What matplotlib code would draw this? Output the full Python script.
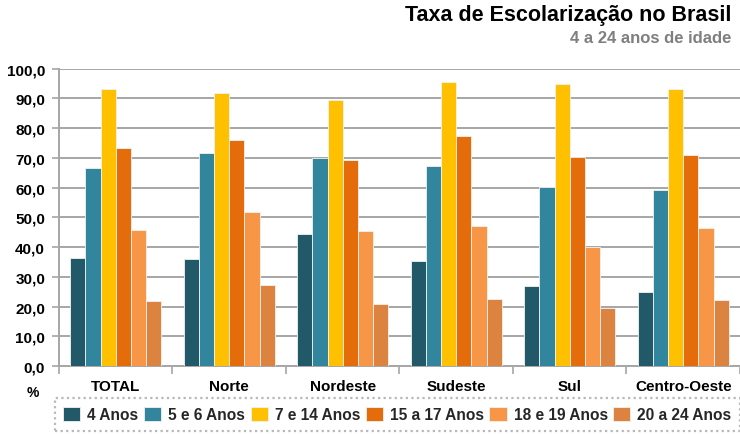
import matplotlib
matplotlib.use('Agg')
import matplotlib.pyplot as plt
import numpy as np

plt.rcParams['font.family'] = ['Liberation Sans', 'DejaVu Sans']
plt.rcParams['font.weight'] = 'bold'

regions = ['TOTAL', 'Norte', 'Nordeste', 'Sudeste', 'Sul', 'Centro-Oeste']
age_groups = ['4 Anos', '5 e 6 Anos', '7 e 14 Anos', '15 a 17 Anos', '18 e 19 Anos', '20 a 24 Anos']

anos_4 = [36.3, 36.0, 44.4, 35.3, 26.8, 25.0]
anos_5_6 = [66.6, 71.6, 69.8, 67.2, 60.2, 59.2]
anos_7_14 = [93.0, 91.9, 89.4, 95.5, 94.8, 93.1]
anos_15_17 = [73.2, 75.9, 69.2, 77.3, 70.4, 71.0]
anos_18_19 = [45.7, 51.8, 45.3, 47.1, 39.9, 46.3]
anos_20_24 = [21.8, 27.1, 20.9, 22.4, 19.6, 22.1]

series = [anos_4, anos_5_6, anos_7_14, anos_15_17, anos_18_19, anos_20_24]
colors = ['#215968', '#31859C', '#FFC000', '#E46C0A', '#F79646', '#DC843F']

fig = plt.figure(figsize=(7.4, 4.35), dpi=100)
ax = fig.add_axes([0.0797, 0.1563, 0.9203, 0.6839])

x = np.arange(len(regions))
w = 0.8 / len(series)
for i, (vals, col, lab) in enumerate(zip(series, colors, age_groups)):
    ax.bar(x - 0.4 + w * (i + 0.5), vals, width=w, color=col, label=lab,
           edgecolor='#F2F2F2', linewidth=0.6, zorder=3)

ax.set_xlim(-0.5, len(regions) - 0.5)
ax.set_ylim(0, 100)
ax.set_yticks(np.arange(0, 101, 10))
ax.set_yticklabels([f'{v:.1f}'.replace('.', ',') for v in range(0, 101, 10)],
                   fontsize=11, fontweight='bold')
ax.yaxis.grid(True, color='#A6A6A6', linewidth=1.4, zorder=0)
ax.tick_params(axis='y', length=5, color='#A6A6A6', width=1.2, pad=5)

ax.set_xticks(x)
ax.set_xticklabels(regions, fontsize=11, fontweight='bold')
ax.tick_params(axis='x', length=0, pad=9)
ax.set_xticks(np.arange(-0.5, len(regions), 1), minor=True)
ax.tick_params(axis='x', which='minor', length=6, color='#A6A6A6', width=1.2)

for side in ['top', 'right']:
    ax.spines[side].set_visible(False)
for side in ['left', 'bottom']:
    ax.spines[side].set_color('#A6A6A6')
    ax.spines[side].set_linewidth(1.4)

fig.text(0.9888, 0.9524, 'Taxa de Escolarização no Brasil', ha='right', va='baseline',
         fontsize=15.5, fontweight='bold', color='black')
fig.text(0.9888, 0.9019, '4 a 24 anos de idade', ha='right', va='baseline',
         fontsize=12, fontweight='bold', color='#7F7F7F')
fig.text(0.045, 0.097, '%', ha='center', va='center', fontsize=10, fontweight='bold')

leg = fig.legend(loc='lower left', bbox_to_anchor=(0.074, 0.007, 0.926, 0.07), mode='expand',
                 ncol=6, fontsize=11.2, frameon=True, fancybox=False,
                 handlelength=1.1, handleheight=1.05, handletextpad=0.45, columnspacing=0.5,
                 borderpad=0.55, borderaxespad=0)
leg.get_frame().set_linestyle((0, (1, 1.5)))
leg.get_frame().set_edgecolor('#A6A6A6')
leg.get_frame().set_linewidth(1.6)
for t in leg.get_texts():
    t.set_fontweight('bold')
    t.set_color('#262626')

fig.savefig('out.png', dpi=100)
